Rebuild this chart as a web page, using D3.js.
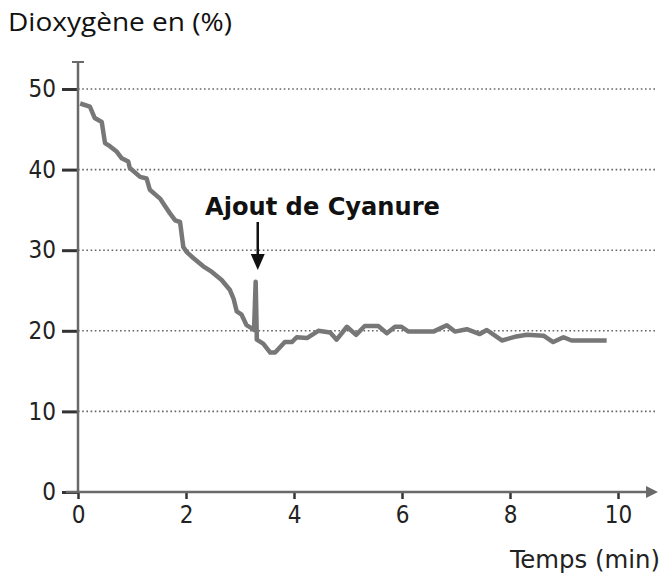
<!DOCTYPE html>
<html>
<head>
<meta charset="utf-8">
<script src="https://cdn.jsdelivr.net/npm/d3@7"></script>
<style>
  body { margin: 0; background: #fff; }
  svg { display: block; }
  .tick text { font-family: "DejaVu Sans Condensed", sans-serif; font-size: 24px; fill: #222; }
</style>
</head>
<body>
<div id="chart"></div>
<script>
var width = 663, height = 581;

// temps (min) / dioxygène (%)
var times = [0.04,0.22,0.31,0.44,0.5,0.59,0.72,0.81,0.93,0.96,1.15,1.27,1.33,1.52,1.58,1.70,1.80,1.89,1.95,2.01,
  2.14,2.32,2.48,2.66,2.81,2.88,2.94,3.03,3.12,3.22,3.26,3.29,3.31,3.31,3.43,3.56,3.65,3.83,3.96,4.05,
  4.24,4.45,4.67,4.79,4.98,5.15,5.31,5.56,5.72,5.87,5.99,6.12,6.58,6.83,6.98,7.20,7.44,7.57,7.85,8.12,
  8.31,8.62,8.80,8.99,9.14,9.79];
var o2 = [48.2,47.8,46.4,45.9,43.3,42.9,42.2,41.4,41.0,40.2,39.1,38.9,37.5,36.4,35.8,34.6,33.7,33.5,30.4,29.8,
  29.0,28.0,27.3,26.3,25.1,24.0,22.4,22.0,20.7,20.3,20.1,26.1,19.7,18.9,18.4,17.3,17.3,18.6,18.6,19.2,
  19.1,20.0,19.8,18.9,20.5,19.5,20.6,20.6,19.7,20.5,20.5,19.9,19.9,20.7,19.9,20.2,19.6,20.1,18.8,19.3,
  19.5,19.4,18.6,19.2,18.8,18.8];
var xTicks = [0, 2, 4, 6, 8, 10];
var yTicks = [0, 10, 20, 30, 40, 50];
var injectTime = 3.31, injectLabel = "Ajout de Cyanure";

var x = d3.scaleLinear().domain([0, 10]).range([78, 618]);
var y = d3.scaleLinear().domain([0, 50]).range([492, 89]);

var svg = d3.select("#chart").append("svg")
  .attr("width", width)
  .attr("height", height);

// dotted grid
svg.append("g").selectAll("line")
  .data(yTicks.filter(function(d) { return d > 0; }))
  .enter().append("line")
  .attr("x1", x(0)).attr("x2", 655)
  .attr("y1", function(d) { return y(d); })
  .attr("y2", function(d) { return y(d); })
  .attr("stroke", "#666")
  .attr("stroke-width", 1.6)
  .attr("stroke-dasharray", "1.6,2.6");

// y axis
var yAxis = svg.append("g")
  .attr("transform", "translate(" + x(0) + ",0)")
  .call(d3.axisLeft(y).tickValues(yTicks).tickSize(16).tickPadding(6));
yAxis.select(".domain").remove();
yAxis.selectAll(".tick line").attr("stroke", "#333").attr("stroke-width", 3);
svg.append("line")
  .attr("x1", x(0)).attr("x2", x(0))
  .attr("y1", 62).attr("y2", y(0))
  .attr("stroke", "#6a6a6a").attr("stroke-width", 2.5);
svg.append("line")
  .attr("x1", x(0) - 6).attr("x2", x(0) + 6)
  .attr("y1", 62).attr("y2", 62)
  .attr("stroke", "#6a6a6a").attr("stroke-width", 2);

// x axis
var xAxis = svg.append("g")
  .attr("transform", "translate(0," + y(0) + ")")
  .call(d3.axisBottom(x).tickValues(xTicks).tickSize(7).tickPadding(7));
xAxis.select(".domain").remove();
xAxis.selectAll(".tick line").attr("stroke", "#333").attr("stroke-width", 2.5);
svg.append("line")
  .attr("x1", 66).attr("x2", 650)
  .attr("y1", y(0)).attr("y2", y(0))
  .attr("stroke", "#6a6a6a").attr("stroke-width", 2.5);
svg.append("path")
  .attr("d", "M646," + (y(0) - 6) + "L658," + y(0) + "L646," + (y(0) + 6) + "Z")
  .attr("fill", "#6a6a6a");

// curve
var pts = times.map(function(t, i) { return [t, o2[i]]; });
var line = d3.line()
  .x(function(d) { return x(d[0]); })
  .y(function(d) { return y(d[1]); });
svg.append("path")
  .datum(pts)
  .attr("d", line)
  .attr("fill", "none")
  .attr("stroke", "#777")
  .attr("stroke-width", 4.5)
  .attr("stroke-linejoin", "round");

// annotation
var ax = x(injectTime) + 1;
svg.append("line")
  .attr("x1", ax).attr("x2", ax)
  .attr("y1", 222).attr("y2", 256)
  .attr("stroke", "#111").attr("stroke-width", 2.5);
svg.append("path")
  .attr("d", "M" + (ax - 7) + ",254L" + (ax + 7) + ",254L" + ax + ",270Z")
  .attr("fill", "#111");
svg.append("text")
  .attr("x", 205).attr("y", 215)
  .attr("textLength", 235).attr("lengthAdjust", "spacingAndGlyphs")
  .style("font-family", "'DejaVu Sans Condensed', sans-serif")
  .style("font-weight", "bold")
  .style("font-size", "25px")
  .style("fill", "#111")
  .text(injectLabel);

// titles
svg.append("text")
  .attr("x", 8).attr("y", 31)
  .attr("textLength", 224).attr("lengthAdjust", "spacingAndGlyphs")
  .style("font-family", "'Open Sans', sans-serif")
  .style("font-size", "25px")
  .style("fill", "#111")
  .text("Dioxygène en (%)");
svg.append("text")
  .attr("x", 510).attr("y", 568)
  .attr("textLength", 150).attr("lengthAdjust", "spacingAndGlyphs")
  .style("font-family", "'DejaVu Sans Condensed', sans-serif")
  .style("font-size", "25px")
  .style("fill", "#222")
  .text("Temps (min)");
</script>
</body>
</html>
